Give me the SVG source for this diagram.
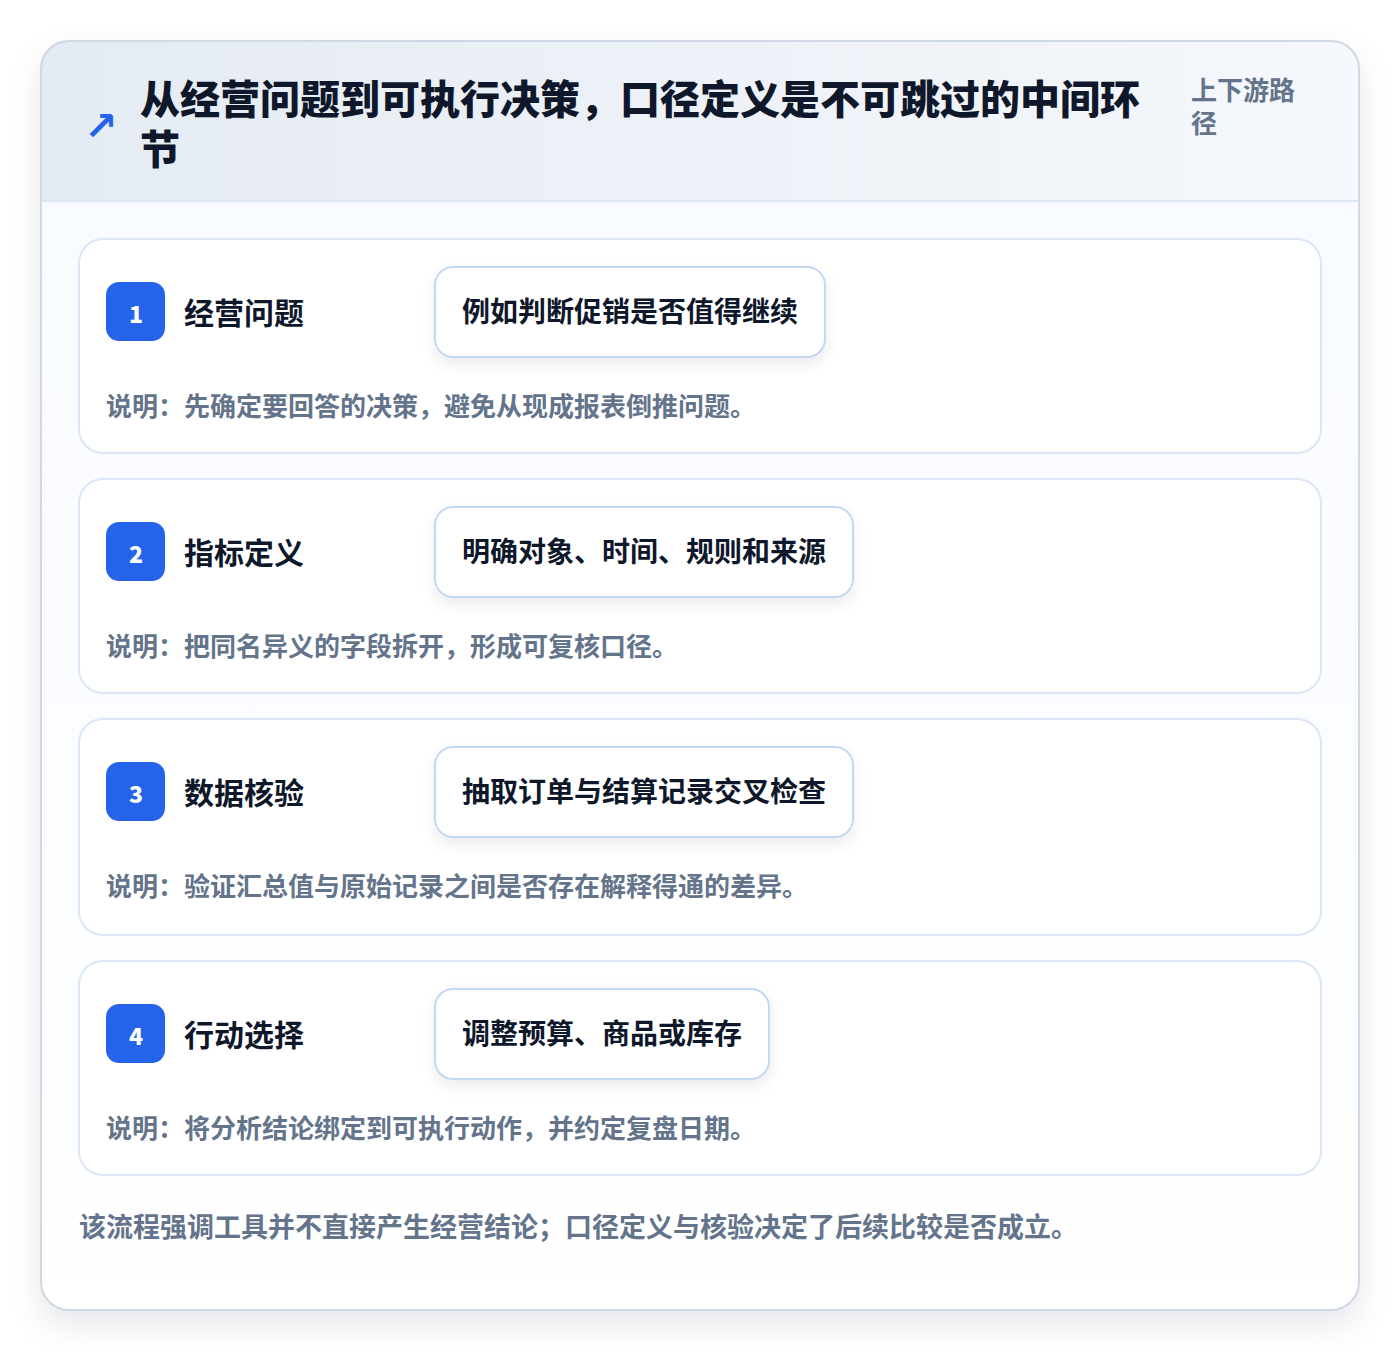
<svg xmlns="http://www.w3.org/2000/svg" width="1400" height="1352" viewBox="0 0 1400 1352">
<defs>
<linearGradient id="hdr" x1="0" y1="0" x2="1" y2="0">
<stop offset="0" stop-color="#e5ebf3"/>
<stop offset="1" stop-color="#f5f8fc"/>
</linearGradient>
<linearGradient id="body" x1="0" y1="0" x2="0" y2="1">
<stop offset="0" stop-color="#f7faff"/>
<stop offset="1" stop-color="#ffffff"/>
</linearGradient>
<filter id="outerShadow" x="-10%" y="-10%" width="120%" height="125%">
<feDropShadow dx="0" dy="14" stdDeviation="16" flood-color="#0f172a" flood-opacity="0.10"/>
</filter>
<filter id="pillShadow" x="-10%" y="-20%" width="120%" height="160%">
<feDropShadow dx="0" dy="6" stdDeviation="7" flood-color="#0f172a" flood-opacity="0.08"/>
</filter>
<clipPath id="outerClip"><rect x="41" y="41" width="1318" height="1269" rx="28"/></clipPath>
</defs>
<style>
text{font-family:"Noto Sans CJK SC","Noto Sans",sans-serif;font-weight:700}
.title{font-size:40px;fill:#0f172a;font-weight:800}
.sub{font-size:26px;fill:#64748b}
.card{fill:#ffffff;stroke:#dbe7f6;stroke-width:2}
.badge{fill:#2563eb}
.num{font-size:23px;fill:#ffffff;text-anchor:middle;font-weight:800}
.label{font-size:30px;fill:#0f172a}
.pill{fill:#ffffff;stroke:#c3d8f4;stroke-width:2}
.pilltext{font-size:28px;fill:#0f172a}
.desc{font-size:26px;fill:#64748b}
.foot{font-size:27px;fill:#64748b}
</style>
<rect width="1400" height="1352" fill="#ffffff"/>
<g id="frame">
<rect x="41" y="41" width="1318" height="1269" rx="28" fill="url(#body)" filter="url(#outerShadow)"/>
<g clip-path="url(#outerClip)">
<rect x="41" y="41" width="1318" height="160" fill="url(#hdr)"/>
<line x1="41" y1="201" x2="1359" y2="201" stroke="#dbe7f5" stroke-width="2"/>
</g>
<rect x="41" y="41" width="1318" height="1269" rx="28" fill="none" stroke="#cfd9e6" stroke-width="2"/>
</g>
<g id="header">
<text x="84" y="140" font-size="40" fill="#2563eb" style="font-family:'DejaVu Sans',sans-serif;font-weight:700">↗</text>
<text class="title" x="140" y="114">从经营问题到可执行决策，口径定义是不可跳过的中间环</text>
<text class="title" x="140" y="164">节</text>
<text class="sub" x="1191" y="100">上下游路</text>
<text class="sub" x="1191" y="133">径</text>
</g>
<g id="connectors"></g>
<g id="step1">
<rect class="card" x="79" y="239" width="1242" height="214" rx="24"/>
<rect class="badge" x="106" y="282" width="59" height="59" rx="13"/>
<text class="num" x="136" y="323">1</text>
<text class="label" x="184" y="324">经营问题</text>
<rect class="pill" x="435" y="267" width="390" height="90" rx="18" filter="url(#pillShadow)"/>
<text class="pilltext" x="462" y="322">例如判断促销是否值得继续</text>
<text class="desc" x="106" y="416">说明：先确定要回答的决策，避免从现成报表倒推问题。</text>
</g>
<g id="step2">
<rect class="card" x="79" y="479" width="1242" height="214" rx="24"/>
<rect class="badge" x="106" y="522" width="59" height="59" rx="13"/>
<text class="num" x="136" y="563">2</text>
<text class="label" x="184" y="564">指标定义</text>
<rect class="pill" x="435" y="507" width="418" height="90" rx="18" filter="url(#pillShadow)"/>
<text class="pilltext" x="462" y="562">明确对象、时间、规则和来源</text>
<text class="desc" x="106" y="656">说明：把同名异义的字段拆开，形成可复核口径。</text>
</g>
<g id="step3">
<rect class="card" x="79" y="719" width="1242" height="216" rx="24"/>
<rect class="badge" x="106" y="762" width="59" height="59" rx="13"/>
<text class="num" x="136" y="803">3</text>
<text class="label" x="184" y="804">数据核验</text>
<rect class="pill" x="435" y="747" width="418" height="90" rx="18" filter="url(#pillShadow)"/>
<text class="pilltext" x="462" y="802">抽取订单与结算记录交叉检查</text>
<text class="desc" x="106" y="896">说明：验证汇总值与原始记录之间是否存在解释得通的差异。</text>
</g>
<g id="step4">
<rect class="card" x="79" y="961" width="1242" height="214" rx="24"/>
<rect class="badge" x="106" y="1004" width="59" height="59" rx="13"/>
<text class="num" x="136" y="1045">4</text>
<text class="label" x="184" y="1046">行动选择</text>
<rect class="pill" x="435" y="989" width="334" height="90" rx="18" filter="url(#pillShadow)"/>
<text class="pilltext" x="462" y="1044">调整预算、商品或库存</text>
<text class="desc" x="106" y="1138">说明：将分析结论绑定到可执行动作，并约定复盘日期。</text>
</g>
<g id="footer">
<text class="foot" x="79" y="1237">该流程强调工具并不直接产生经营结论；口径定义与核验决定了后续比较是否成立。</text>
</g>
</svg>
